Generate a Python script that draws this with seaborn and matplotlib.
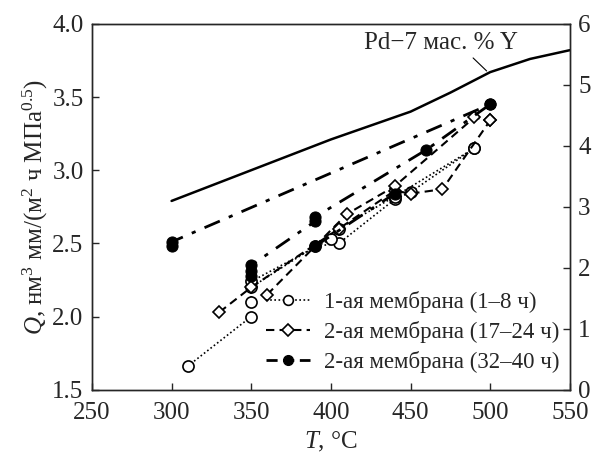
import matplotlib
matplotlib.use("Agg")
import matplotlib.pyplot as plt
import seaborn as sns
from matplotlib.lines import Line2D

# Pd-7 мас.% Y reference curve
pd_T = [300, 350, 400, 450, 475, 500, 525, 550]
pd_Q = [2.79, 3.00, 3.21, 3.40, 3.53, 3.67, 3.76, 3.82]

# 1-ая мембрана (1-8 ч) - open circles, dotted
m1a_T = [310, 350]
m1a_Q = [1.66, 2.00]
m1b_T = [350, 350, 390, 405, 440, 450, 490]
m1b_Q = [2.10, 2.20, 2.48, 2.50, 2.80, 2.85, 3.15]
m1c_T = [350, 400, 405, 440, 490]
m1c_Q = [2.24, 2.53, 2.60, 2.82, 3.15]

# 2-ая мембрана (17-24 ч) - open diamonds, dashed
m2a_T = [330, 350, 405, 440, 450, 470, 500]
m2a_Q = [2.03, 2.20, 2.60, 2.86, 2.84, 2.87, 3.34]
m2b_T = [360, 410, 440, 490, 500]
m2b_Q = [2.15, 2.70, 2.89, 3.36, 3.34]

# 2-ая мембрана (32-40 ч) - filled circles, dash-dot
m3a_T = [300, 300, 500]
m3a_Q = [2.48, 2.51, 3.45]
m3b_T = [350, 350, 350, 390, 390, 460, 500]
m3b_Q = [2.28, 2.31, 2.35, 2.65, 2.68, 3.14, 3.45]
m3c_T = [390, 440]
m3c_Q = [2.48, 2.84]

labels = ["1-ая мембрана (1\u20138 ч)", "2-ая мембрана (17\u201324 ч)", "2-ая мембрана (32\u201340 ч)"]

sns.set_style("ticks")
plt.rcParams["font.family"] = ["Liberation Serif", "DejaVu Serif"]
plt.rcParams["mathtext.fontset"] = "custom"
plt.rcParams["mathtext.rm"] = "Liberation Serif"
plt.rcParams["mathtext.it"] = "Liberation Serif:italic"

fig, ax = plt.subplots(figsize=(5.93, 4.58), dpi=100)
fig.subplots_adjust(left=0.155, right=0.961, top=0.948, bottom=0.149)

dot = (0, (1, 1.5))
dash = (0, (4, 2.5))
dashdot = (0, (6, 3.5, 1.5, 3.5))

sns.lineplot(x=pd_T, y=pd_Q, ax=ax, color="black", lw=1.8, sort=False, estimator=None)

for T, Q in [(m1a_T, m1a_Q), (m1b_T, m1b_Q), (m1c_T, m1c_Q)]:
    sns.lineplot(x=T, y=Q, ax=ax, color="black", lw=1.2, linestyle=dot, marker="o",
                 markersize=8, mfc="white", mec="black", mew=1.2, sort=False, estimator=None)
for T, Q in [(m2a_T, m2a_Q), (m2b_T, m2b_Q)]:
    sns.lineplot(x=T, y=Q, ax=ax, color="black", lw=1.5, linestyle=dash, marker="D",
                 markersize=6.5, mfc="white", mec="black", mew=1.2, sort=False, estimator=None)
for T, Q in [(m3a_T, m3a_Q), (m3b_T, m3b_Q), (m3c_T, m3c_Q)]:
    sns.lineplot(x=T, y=Q, ax=ax, color="black", lw=2.0, linestyle=dashdot, marker="o",
                 markersize=8, mfc="black", mec="black", sort=False, estimator=None)

ax.set_xlim(250, 550)
ax.set_ylim(1.5, 4.0)
ax.set_xticks([250, 300, 350, 400, 450, 500, 550])
ax.set_yticks([1.5, 2.0, 2.5, 3.0, 3.5, 4.0])
ax.yaxis.set_major_formatter(plt.FormatStrFormatter("%.1f"))
ax.tick_params(axis="both", direction="in", labelsize=18, length=5, width=1)
ax.tick_params(axis="x", pad=9)
ax.tick_params(axis="y", pad=6)
ax.set_xlabel("$T$, °C", fontsize=18, labelpad=4)
ax.set_ylabel("$Q$, нм$^3$ мм/(м$^2$ ч МПа$^{0.5}$)", fontsize=18, labelpad=2)

ax2 = ax.twinx()
ax2.set_ylim(0, 6)
ax2.set_yticks(range(7))
ax2.tick_params(direction="in", labelsize=18, length=5, width=1, pad=6)

ax.text(469, 3.87, "Pd\u22127 мас. % Y", fontsize=18, ha="center", va="center")
ax.annotate("", xy=(499, 3.665), xytext=(488, 3.78),
            arrowprops=dict(arrowstyle="-", lw=0.8, color="black"))

handles = [
    Line2D([], [], color="black", lw=1.2, linestyle=dot, marker="o", markersize=7,
           mfc="white", mec="black", mew=1.2),
    Line2D([], [], color="black", lw=1.5, linestyle=dash, marker="D", markersize=6,
           mfc="white", mec="black", mew=1.2),
    Line2D([], [], color="black", lw=2.0, linestyle=(0, (4, 2)), marker="o", markersize=7,
           mfc="black", mec="black"),
]
ax.legend(handles, labels, loc="lower left", fontsize=16.5, frameon=False,
          handlelength=1.9, handletextpad=0.6, labelspacing=0.35,
          bbox_to_anchor=(0.365, 0.045), borderaxespad=0.0, borderpad=0.0)

for a in (ax, ax2):
    for s in a.spines.values():
        s.set_linewidth(1.0)

fig.savefig("out.png", dpi=100)
